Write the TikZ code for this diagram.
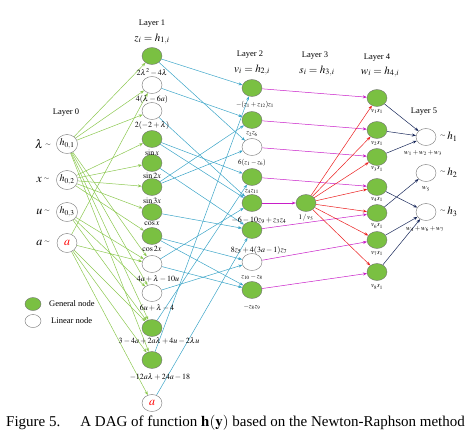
\documentclass[tikz,border=0pt]{standalone}
\usepackage{mathptmx}
\usepackage{fontspec}
\setmainfont{Liberation Serif}
\usetikzlibrary{arrows.meta,shapes.geometric,backgrounds}
\definecolor{gfill}{RGB}{122,192,66}
\definecolor{gline}{RGB}{140,200,80}
\definecolor{bline}{RGB}{60,165,200}
\definecolor{mline}{RGB}{200,30,200}
\definecolor{rline}{RGB}{235,30,30}
\definecolor{nline}{RGB}{25,40,90}
\tikzset{
  gen/.style={ellipse, draw=black!55, fill=gfill, minimum width=20pt, minimum height=17pt, inner sep=0pt},
  lin/.style={ellipse, draw=black!55, fill=white, minimum width=20pt, minimum height=17pt, inner sep=0pt},
  lab/.style={font=\fontsize{8}{9}\selectfont, inner sep=0pt},
  labs/.style={font=\fontsize{7}{8}\selectfont, inner sep=0pt},
  hdr/.style={font=\fontsize{8.5}{10}\selectfont, inner sep=0pt},
  hmath/.style={font=\fontsize{11}{12}\selectfont, inner sep=0pt},
  tip/.style={-{Stealth[length=4pt,width=3pt]}, line width=0.5pt},
  ge/.style={tip, draw=gline},
  be/.style={tip, draw=bline},
  me/.style={tip, draw=mline},
  re/.style={tip, draw=rline},
  ne/.style={tip, draw=nline},
}
\begin{document}
\begin{tikzpicture}[x=1pt,y=-1pt]
\useasboundingbox (0,0) rectangle (474,429);
% Layer 0
\node[hdr] (h0) at (66,113) {Layer 0};
\node[lin, minimum height=19pt] (a1) at (67,144) {$h_{0,1}$};
\node[lin, minimum height=19pt] (a2) at (67,180) {$h_{0,2}$};
\node[lin, minimum height=19pt] (a3) at (67,212) {$h_{0,3}$};
\node[lin, minimum height=19pt] (a4) at (67,243) {\large\textcolor{red}{$a$}};
\node[font=\large] (t1) at (43,144) {$\lambda$\,\raisebox{2pt}{\scriptsize$\sim$}};
\node[font=\large] (t2) at (43,180) {$x$\,\raisebox{2pt}{\scriptsize$\sim$}};
\node[font=\large] (t3) at (43,212) {$u$\,\raisebox{2pt}{\scriptsize$\sim$}};
\node[font=\large] (t4) at (43,243) {$a$\,\raisebox{2pt}{\scriptsize$\sim$}};
% Layer 1
\node[hdr] (h1) at (152,24) {Layer 1};
\node[hmath] (m1) at (152,39) {$z_i = h_{1,i}$};
\node[gen] (b1) at (152,56) {};
\node[lin] (b2) at (152,85) {};
\node[lin] (b3) at (152,111) {};
\node[gen] (b4) at (152,139) {};
\node[gen] (b5) at (152,163) {};
\node[gen] (b6) at (152,187) {};
\node[gen] (b7) at (152,212) {};
\node[gen] (b8) at (152,236) {};
\node[lin] (b9) at (152,264) {};
\node[lin] (b10) at (152,293) {};
\node[gen] (b11) at (152,328) {};
\node[gen] (b12) at (152,360) {};
\node[lin] (b13) at (152,403) {\large\textcolor{red}{$a$}};
\node[lab] (lb1) at (152,72) {$2\lambda^2-4\lambda$};
\node[lab] (lb2) at (152,99) {$4(\lambda-6a)$};
\node[lab] (lb3) at (152,125) {$2(-2+\lambda)$};
\node[lab] (lb4) at (152,153) {$\sin x$};
\node[lab] (lb5) at (152,176) {$\sin 2x$};
\node[lab] (lb6) at (152,201) {$\sin 3x$};
\node[lab] (lb7) at (152,224) {$\cos x$};
\node[lab] (lb8) at (152,249) {$\cos 2x$};
\node[lab] (lb9) at (158,279) {$4a+\lambda-10u$};
\node[lab] (lb10) at (157,308) {$6u+\lambda-4$};
\node[lab] (lb11) at (159,341) {$3-4a+2a\lambda+4u-2\lambda u$};
\node[lab] (lb12) at (160,377) {$-12a\lambda+24a-18$};
% Layer 2
\node[hdr] (h2) at (250,55) {Layer 2};
\node[hmath] (m2) at (252,70) {$v_i = h_{2,i}$};
\node[gen] (c1) at (252,88) {};
\node[gen] (c2) at (252,120) {};
\node[lin] (c3) at (252,147) {};
\node[gen] (c4) at (252,177) {};
\node[gen] (c5) at (252,203) {};
\node[gen] (c6) at (252,230) {};
\node[lin] (c7) at (252,262) {};
\node[gen] (c8) at (252,290) {};
\node[labs] (lc1) at (255,105) {$-(z_1+z_{12})z_1$};
\node[labs] (lc2) at (252,134) {$z_2z_6$};
\node[labs] (lc3) at (252,163) {$6(z_1-z_6)$};
\node[labs] (lc4) at (252,191) {$z_4z_{11}$};
\node[lab] (lc5) at (259,220) {$-6-10z_9+z_3z_4$};
\node[lab] (lc6) at (259,250) {$8z_5+4(3a-1)z_7$};
\node[labs] (lc7) at (252,277) {$z_{10}-z_8$};
\node[labs] (lc8) at (252,307) {$-z_8z_9$};
% Layer 3
\node[hdr] (h3) at (315,56) {Layer 3};
\node[hmath] (m3) at (317,71) {$s_i = h_{3,i}$};
\node[gen] (d1) at (306,203) {};
\node[labs] (ld1) at (306,218) {$1\,/\,v_5$};
% Layer 4
\node[hdr] (h4) at (377,58) {Layer 4};
\node[hmath] (m4) at (380,72) {$w_i = h_{4,i}$};
\node[gen] (e1) at (377,98) {};
\node[gen] (e2) at (377,130) {};
\node[gen] (e3) at (377,157) {};
\node[gen] (e4) at (377,187) {};
\node[gen] (e5) at (377,213) {};
\node[gen] (e6) at (377,240) {};
\node[gen] (e7) at (377,272) {};
\node[labs] (le1) at (377,111) {$v_1s_1$};
\node[labs] (le2) at (377,143) {$v_2s_1$};
\node[labs] (le3) at (377,169) {$v_3s_1$};
\node[labs] (le4) at (377,199) {$v_4s_1$};
\node[labs] (le5) at (377,226) {$v_6s_1$};
\node[labs] (le6) at (377,253) {$v_7s_1$};
\node[labs] (le7) at (377,287) {$v_8s_1$};
% Layer 5
\node[hdr] (h5) at (424,112) {Layer 5};
\node[lin] (f1) at (426,137) {};
\node[lin] (f2) at (426,173) {};
\node[lin] (f3) at (426,212) {};
\node[font=\fontsize{11}{12}\selectfont, anchor=west, inner sep=0pt] (lf1) at (440,137) {\raisebox{2pt}{\scriptsize$\sim$}\,$h_1$};
\node[font=\fontsize{11}{12}\selectfont, anchor=west, inner sep=0pt] (lf2) at (440,173) {\raisebox{2pt}{\scriptsize$\sim$}\,$h_2$};
\node[font=\fontsize{11}{12}\selectfont, anchor=west, inner sep=0pt] (lf3) at (440,212) {\raisebox{2pt}{\scriptsize$\sim$}\,$h_3$};
\node[labs] (lg1) at (423,153) {$w_1+w_2+w_3$};
\node[labs] (lg2) at (426,189) {$w_5$};
\node[labs] (lg3) at (425,229) {$w_4+w_6+w_7$};
% Legend
\node[gen, minimum width=16pt, minimum height=13pt] (k1) at (33,304) {};
\node[lin, minimum width=16pt, minimum height=13pt] (k2) at (33,321) {};
\node[font=\fontsize{8.5}{10}\selectfont, anchor=west, inner sep=0pt] (kt1) at (49,304) {General node};
\node[font=\fontsize{8.5}{10}\selectfont, anchor=west, inner sep=0pt] (kt2) at (51,321) {Linear node};
% Caption
\node[font=\fontsize{15}{17}\selectfont, anchor=base west, inner sep=0pt] (cap) at (6,426) {Figure 5.\hspace{1em} A DAG of function $\mathbf{h}(\mathbf{y})$ based on the Newton-Raphson method};
% Edges
\begin{scope}[on background layer]
\foreach \s/\t in {a1/b1,a1/b2,a1/b3,a1/b9,a1/b10,a1/b11,a1/b12,
                   a2/b4,a2/b5,a2/b6,a2/b7,a2/b8,
                   a3/b9,a3/b10,a3/b11,
                   a4/b2,a4/b9,a4/b11,a4/b12,a4/b13}
  \draw[ge] (\s) -- (\t);
\foreach \s/\t in {b1/c1,b12/c1,b2/c2,b6/c2,b1/c3,b6/c3,b4/c4,b11/c4,
                   b3/c5,b4/c5,b9/c5,b5/c6,b7/c6,b13/c6,b8/c7,b10/c7,b8/c8,b9/c8}
  \draw[be] (\s) -- (\t);
\foreach \s/\t in {c1/e1,c2/e2,c3/e3,c4/e4,c5/d1,c6/e5,c7/e6,c8/e7}
  \draw[me] (\s) -- (\t);
\foreach \t in {e1,e2,e3,e4,e5,e6,e7}
  \draw[re] (d1) -- (\t);
\foreach \s/\t in {e1/f1,e2/f1,e3/f1,e5/f2,e4/f3,e6/f3,e7/f3}
  \draw[ne] (\s) -- (\t);
\end{scope}
\end{tikzpicture}
\end{document}
